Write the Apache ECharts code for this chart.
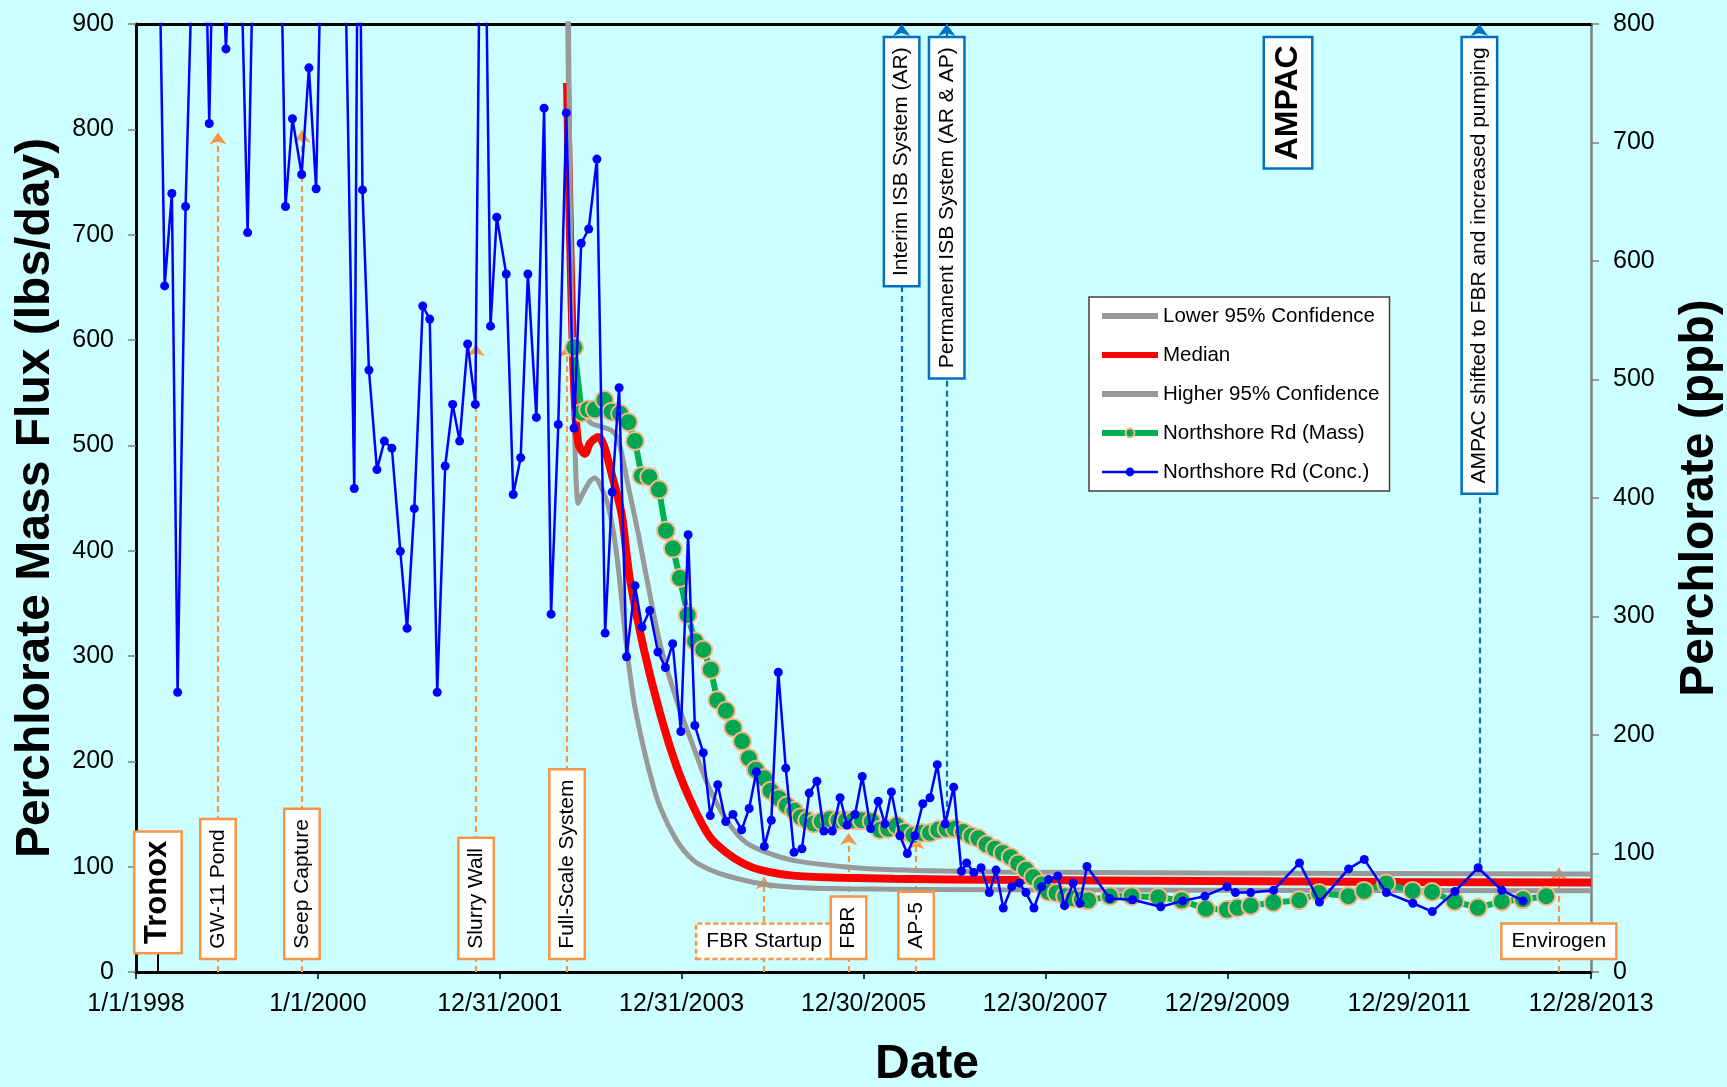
<!DOCTYPE html>
<html><head><meta charset="utf-8">
<script src="https://cdn.jsdelivr.net/npm/echarts@6/dist/echarts.min.js"></script>
<style>html,body{margin:0;padding:0;background:#CCFFFF;} #c{width:1727px;height:1087px;}</style>
</head><body><div id="c"></div>
<script>
const FONT = '"Liberation Sans", Arial, Helvetica, sans-serif';

// x values are days since 1/1/1998
const xTickLabels = ['1/1/1998','1/1/2000','12/31/2001','12/31/2003','12/30/2005','12/30/2007','12/29/2009','12/29/2011','12/28/2013'];
const xStep = 730;
const xMaxDay = 5840;

const seriesNames = ['Lower 95% Confidence','Median','Higher 95% Confidence','Northshore Rd (Mass)','Northshore Rd (Conc.)'];

// lbs/day
const lowerConf = [[1730,960],[1742,720],[1749,620],[1758,530],[1775,445],[1789,452],[1822,466],[1842,469],[1862,463],[1896,442],[1929,397],[1969,309],[2000,255],[2036,214],[2070,182],[2103,157],[2170,125],[2237,106],[2304,97],[2371,91.4],[2505,84],[2638,80.5],[2839,79],[3468,78],[4271,77.6],[5840,77.2]];
const medianFlux = [[1730,844],[1742,700],[1758,560],[1775,502],[1802,492],[1822,502],[1856,508],[1878,500],[1909,473],[1949,435],[1969,397],[1983,372],[2036,309],[2103,246],[2170,195],[2237,157],[2304,128],[2371,113],[2438,103],[2505,97],[2638,91.5],[2839,89.5],[3040,88.5],[3468,87.5],[4271,86.5],[5073,85.5],[5840,85]];
const higherConf = [[1730,1100],[1749,610],[1769,560],[1789,535],[1822,522],[1862,518],[1909,514],[1936,505],[1976,461],[2016,416],[2036,391],[2103,312],[2170,258],[2237,214],[2304,173],[2371,144],[2438,125],[2505,116],[2638,106],[2839,100],[3040,97],[3468,95],[4271,94],[5840,93]];
const massFlux = [[1759,593],[1789,531],[1815,534],[1842,534],[1880,543],[1909,532],[1943,530],[1976,522],[2003,504],[2030,471],[2060,470],[2099,458],[2127,419],[2155,402],[2183,374],[2214,339],[2244,314],[2277,306],[2307,287],[2333,258],[2368,248],[2397,232],[2433,219],[2460,203],[2488,192],[2521,184],[2547,172],[2580,165],[2612,158],[2642,153],[2668,147],[2694,144],[2721,141],[2752,143],[2785,145],[2819,144],[2850,144],[2879,144],[2913,144],[2953,143],[2986,135],[3019,136],[3053,139],[3086,133],[3120,130],[3154,132],[3187,132],[3220,135],[3254,136],[3287,136],[3320,133],[3354,129],[3381,127],[3414,121],[3448,117],[3479,113],[3511,109],[3541,103],[3572,97],[3601,90],[3635,83],[3662,76],[3695,75],[3729,72],[3762,70],[3796,69],[3822,68],[3909,72],[3996,72],[4103,71],[4197,68],[4294,60],[4379,59],[4421,61],[4474,63],[4565,66],[4669,68],[4749,75],[4866,72],[4929,77],[5018,84],[5124,77],[5202,76],[5293,67],[5386,61],[5482,67],[5567,69],[5660,72]];
// ppb
const concPpb = [[80,1050],[115,579],[144,657],[167,236],[199,646],[258,1100],[294,716],[321,1000],[361,779],[405,1000],[448,624],[530,1500],[600,646],[628,720],[665,673],[694,763],[723,661],[795,1400],[876,408],[893,1000],[909,660],[935,508],[967,424],[997,448],[1027,442],[1061,355],[1088,290],[1117,391],[1151,562],[1179,551],[1209,236],[1241,427],[1271,479],[1299,448],[1331,530],[1362,479],[1390,1100],[1423,545],[1448,637],[1486,589],[1514,403],[1544,434],[1573,589],[1607,468],[1638,729],[1666,302],[1695,462],[1727,725],[1758,459],[1787,615],[1817,627],[1850,686],[1883,286],[1911,405],[1939,493],[1969,266],[2003,326],[2031,291],[2062,305],[2095,270],[2125,257],[2154,277],[2187,203],[2216,369],[2243,208],[2277,185],[2305,132],[2335,158],[2367,127],[2396,133],[2431,120],[2461,138],[2490,169],[2522,106],[2550,128],[2578,253],[2608,172],[2641,101],[2673,104],[2702,151],[2733,161],[2761,119],[2795,119],[2826,147],[2854,124],[2886,133],[2915,165],[2949,121],[2979,144],[3006,125],[3032,152],[3066,115],[3096,100],[3126,115],[3158,142],[3187,147],[3216,175],[3248,125],[3282,156],[3313,85],[3334,92],[3363,84],[3392,88],[3425,67],[3452,86],[3481,54],[3515,72],[3545,75],[3572,67],[3604,54],[3635,72],[3663,78],[3700,81],[3727,56],[3761,75],[3789,58],[3817,89],[3908,62],[4000,61],[4113,55],[4201,60],[4290,64],[4379,72],[4413,67],[4474,67],[4566,69],[4670,92],[4750,59],[4867,87],[4930,95],[5019,67],[5125,58],[5203,51],[5294,68],[5387,88],[5482,69],[5567,60]];

// annotations: event day, arrow tip (lbs/day)
const orangeNotes = [
  {text:'GW-11 Pond', day:329, tip:797},
  {text:'Seep Capture', day:666, tip:799},
  {text:'Slurry Wall', day:1365, tip:596},
  {text:'Full-Scale System', day:1730, tip:595},
  {text:'FBR Startup', day:2521, tip:90, horizontal:true, dashed:true},
  {text:'FBR', day:2860, tip:132},
  {text:'AP-5', day:3131, tip:128},
  {text:'Envirogen', day:5711, tip:99, horizontal:true}
];
const blueNotes = [
  {text:'Interim ISB System (AR)', day:3073, from:152},
  {text:'Permanent ISB System (AR & AP)', day:3254, from:138},
  {text:'AMPAC shifted to FBR and increased pumping', day:5392, from:103}
];
const tronoxNote = {text:'Tronox', day:88, tip:19};
const ampacNote = {text:'AMPAC', day:4624};

const ORANGE = '#F79646', BLUE_BOX = '#0070C0';

const chart = echarts.init(document.getElementById('c'), null, {renderer:'canvas'});

const markLineData = [];
orangeNotes.forEach(n => {
  const ls = {color:ORANGE, width:2.2, type:[6,4]};
  markLineData.push([{coord:[n.day,0], lineStyle:ls, symbol:'none'},{coord:[n.day,n.tip], lineStyle:ls, symbol:'arrow'}]);
});
blueNotes.forEach(n => {
  const ls = {color:BLUE_BOX, width:2.2, type:[6,4]};
  markLineData.push([{coord:[n.day,n.from], lineStyle:ls, symbol:'none'},{coord:[n.day,900], lineStyle:ls, symbol:'arrow'}]);
});
{
  const ls = {color:'#000', width:2, type:'solid'};
  markLineData.push([{coord:[tronoxNote.day,0], lineStyle:ls, symbol:'none'},{coord:[tronoxNote.day,tronoxNote.tip], lineStyle:ls, symbol:'none'}]);
}

const axisLabelStyle = {fontSize:25, fontFamily:FONT, color:'#000'};
const curveSmooth = 0.3;

const option = {
  backgroundColor:'#CCFFFF',
  animation:false,
  textStyle:{fontFamily:FONT},
  grid:{left:136, top:24, right:136, bottom:115, containLabel:false, outerBoundsMode:'none', show:false},
  legend:{
    orient:'vertical', left:1089, top:297,
    itemWidth:56, itemHeight:11, itemGap:17,
    padding:[8,10,8,10],
    backgroundColor:'#fff', borderColor:'#404040', borderWidth:1.5, borderRadius:0,
    textStyle:{fontSize:20.5, fontFamily:FONT, color:'#000', lineHeight:22},
    selectedMode:false,
    data:[
      {name:seriesNames[0], itemStyle:{opacity:0}, lineStyle:{width:6, color:'#999999'}},
      {name:seriesNames[1], itemStyle:{opacity:0}, lineStyle:{width:6, color:'#FF0000'}},
      {name:seriesNames[2], itemStyle:{opacity:0}, lineStyle:{width:6, color:'#999999'}},
      {name:seriesNames[3], lineStyle:{width:6, color:'#00B050'}},
      {name:seriesNames[4], lineStyle:{width:2.5, color:'#0000FF'}}
    ]
  },
  xAxis:[{
    type:'value', min:0, max:xMaxDay, interval:xStep, position:'bottom',
    axisLine:{show:true, onZero:false, lineStyle:{color:'#000', width:3}},
    axisTick:{show:true, inside:false, length:7, lineStyle:{color:'#000', width:1.5}},
    axisLabel:{show:true, margin:20, showMinLabel:true, showMaxLabel:true, ...axisLabelStyle,
      formatter:(v)=> xTickLabels[Math.round(v/xStep)] || ''},
    splitLine:{show:false}
  },{
    type:'value', min:0, max:xMaxDay, position:'top',
    axisLine:{show:true, onZero:false, lineStyle:{color:'#000', width:3}},
    axisTick:{show:false}, axisLabel:{show:false}, splitLine:{show:false}
  }],
  yAxis:[{
    type:'value', min:0, max:900, interval:100, position:'left',
    name:'Perchlorate Mass Flux (lbs/day)', nameLocation:'middle', nameRotate:90, nameGap:100,
    nameTextStyle:{fontSize:48, fontWeight:'bold', fontFamily:FONT, color:'#000', verticalAlign:'middle'},
    axisLine:{show:true, onZero:false, lineStyle:{color:'#000', width:3}},
    axisTick:{show:true, inside:false, length:8, lineStyle:{color:'#808080', width:1.5}},
    axisLabel:{show:true, margin:22, ...axisLabelStyle},
    splitLine:{show:false}
  },{
    type:'value', min:0, max:800, interval:100, position:'right',
    name:'Perchlorate (ppb)', nameLocation:'middle', nameRotate:90, nameGap:109,
    nameTextStyle:{fontSize:48, fontWeight:'bold', fontFamily:FONT, color:'#000', verticalAlign:'middle'},
    axisLine:{show:true, onZero:false, lineStyle:{color:'#808080', width:2.5}},
    axisTick:{show:true, inside:false, length:8, lineStyle:{color:'#808080', width:1.5}},
    axisLabel:{show:true, margin:22, ...axisLabelStyle},
    splitLine:{show:false}
  }],
  series:[
    {name:seriesNames[0], type:'line', yAxisIndex:0, data:lowerConf, symbol:'none', smooth:curveSmooth,
     lineStyle:{color:'#999999', width:5}, itemStyle:{color:'#999999'}, z:2,
     markLine:{silent:true, animation:false, z:1, symbol:['none','arrow'], symbolSize:[13,12], label:{show:false}, emphasis:{disabled:true}, data:markLineData}},
    {name:seriesNames[1], type:'line', yAxisIndex:0, data:medianFlux, symbol:'none', smooth:curveSmooth,
     lineStyle:{color:'#FF0000', width:8}, itemStyle:{color:'#FF0000'}, z:2},
    {name:seriesNames[2], type:'line', yAxisIndex:0, data:higherConf, symbol:'none', smooth:curveSmooth,
     lineStyle:{color:'#999999', width:5}, itemStyle:{color:'#999999'}, z:2},
    {name:seriesNames[3], type:'line', yAxisIndex:0, data:massFlux, symbol:'circle', symbolSize:18, showAllSymbol:true,
     lineStyle:{color:'#00B050', width:6}, itemStyle:{color:'#00A651', borderColor:'#F9B88A', borderWidth:2}, z:3},
    {name:seriesNames[4], type:'line', yAxisIndex:1, data:concPpb, symbol:'circle', symbolSize:9, showAllSymbol:true,
     lineStyle:{color:'#0000FF', width:2.5}, itemStyle:{color:'#0000FF'}, z:4}
  ]
};
chart.setOption(option);

const px = d => chart.convertToPixel({xAxisIndex:0}, d);
const yBottom = chart.convertToPixel({yAxisIndex:0}, 0);
const yTop = chart.convertToPixel({yAxisIndex:0}, 900);

function boxText(text, x, y, opt) {
  return {
    type:'text', x:x, y:y, rotation: opt.vertical ? Math.PI/2 : 0, z:50, silent:true,
    style:{
      text:text, fill:'#000', fontSize:opt.size||21, fontWeight:opt.bold?'bold':'normal', fontFamily:FONT,
      align:opt.align, verticalAlign:opt.valign, lineHeight:opt.size||21,
      backgroundColor:'#fff', borderColor:opt.color, borderWidth:2.5,
      borderDash: opt.dashed ? [5,3] : null,
      padding:opt.padding || [6,9]
    }
  };
}

const graphics = [];
orangeNotes.forEach(n => {
  if (n.horizontal) {
    graphics.push(boxText(n.text, px(n.day), yBottom-14.3, {align:'center', valign:'bottom', color:ORANGE, dashed:n.dashed, padding:[6,9]}));
  } else {
    graphics.push(boxText(n.text, px(n.day), yBottom-14.3, {vertical:true, align:'left', valign:'middle', color:ORANGE}));
  }
});
blueNotes.forEach(n => {
  graphics.push(boxText(n.text, px(n.day), yTop+14.3, {vertical:true, align:'right', valign:'middle', color:BLUE_BOX}));
});
graphics.push(boxText(tronoxNote.text, px(tronoxNote.day), yBottom-20, {vertical:true, align:'left', valign:'middle', color:ORANGE, size:31, bold:true, padding:[7,8]}));
graphics.push(boxText(ampacNote.text, px(ampacNote.day), yTop+14.3, {vertical:true, align:'right', valign:'middle', color:BLUE_BOX, size:32, bold:true, padding:[7,7]}));
graphics.push({type:'text', x:927, y:1065, z:50, silent:true,
  style:{text:'Date', fontSize:48, fontWeight:'bold', fontFamily:FONT, fill:'#000', align:'center', verticalAlign:'middle'}});

chart.setOption({graphic:graphics});
</script></body></html>
